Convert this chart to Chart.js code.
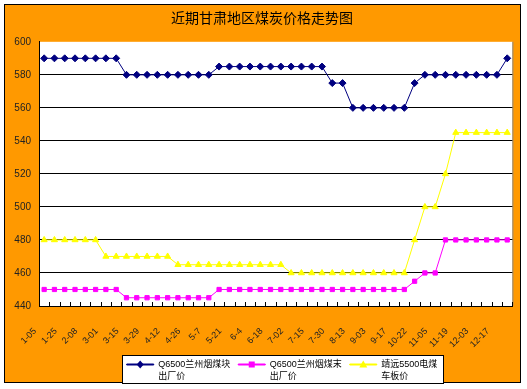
<!DOCTYPE html>
<html>
<head>
<meta charset="utf-8">
<script src="https://cdn.jsdelivr.net/npm/chart.js@4.4.0/dist/chart.umd.min.js"></script>
<style>
  html, body { margin: 0; padding: 0; background: #fff; }
  canvas { display: block; }
</style>
</head>
<body>
<canvas id="coalChart" width="527" height="389"></canvas>
<script>
// weekly quote dates, only every other one is printed on the axis
const dates = [
  "1-05", "1-15", "1-25", "2-01", "2-08", "2-22", "3-01", "3-08", "3-15", "3-22",
  "3-29", "4-05", "4-12", "4-19", "4-26", "5-01", "5-7", "5-14", "5-21", "5-28",
  "6-4", "6-11", "6-18", "6-25", "7-02", "7-08", "7-15", "7-23", "7-30", "8-06",
  "8-13", "8-20", "9-03", "9-10", "9-17", "9-24", "10-22", "10-29", "11-05", "11-12",
  "11-19", "11-26", "12-03", "12-10", "12-17", "12-24"
];

const lumpPrice = [
  590, 590, 590, 590, 590, 590, 590, 590, 580, 580,
  580, 580, 580, 580, 580, 580, 580, 585, 585, 585,
  585, 585, 585, 585, 585, 585, 585, 585, 575, 575,
  560, 560, 560, 560, 560, 560, 575, 580, 580, 580,
  580, 580, 580, 580, 580, 590
];

const finesPrice = [
  450, 450, 450, 450, 450, 450, 450, 450, 445, 445,
  445, 445, 445, 445, 445, 445, 445, 450, 450, 450,
  450, 450, 450, 450, 450, 450, 450, 450, 450, 450,
  450, 450, 450, 450, 450, 450, 455, 460, 460, 480,
  480, 480, 480, 480, 480, 480
];

const powerCoalPrice = [
  480, 480, 480, 480, 480, 480, 470, 470, 470, 470,
  470, 470, 470, 465, 465, 465, 465, 465, 465, 465,
  465, 465, 465, 465, 460, 460, 460, 460, 460, 460,
  460, 460, 460, 460, 460, 460, 480, 500, 500, 520,
  545, 545, 545, 545, 545, 545
];

const seriesNames = ["Q6500兰州烟煤块\n出厂价", "Q6500兰州烟煤末\n出厂价", "靖远5500电煤\n车板价"];
const yMin = 440, yMax = 600, yStep = 20;

const colors = {
  orange: "#FF9900",
  navy: "#000080",
  magenta: "#FF00FF",
  yellow: "#FFFF00"
};
const fontFamily = "'Liberation Sans', 'Noto Sans CJK SC', sans-serif";
const legendFontSize = 9;

// orange frame, white plot area, white legend box
const backdrop = {
  id: "backdrop",
  afterLayout(chart) {
    // legend block sits a little right of centre in the original
    chart.legend.left += 20;
    chart.legend.right += 20;
  },
  beforeDraw(chart) {
    const ctx = chart.ctx;
    const a = chart.chartArea;
    ctx.save();
    ctx.fillStyle = "#fff";
    ctx.fillRect(0, 0, chart.width, chart.height);
    ctx.fillStyle = colors.orange;
    ctx.fillRect(4, 4, chart.width - 10, chart.height - 10);
    ctx.strokeStyle = "#000";
    ctx.lineWidth = 1;
    ctx.strokeRect(4.5, 4.5, chart.width - 11, chart.height - 11);
    ctx.fillStyle = "#fff";
    ctx.fillRect(a.left, a.top, a.right - a.left, a.bottom - a.top);
    ctx.strokeStyle = "#888";
    ctx.beginPath();
    ctx.moveTo(a.right + 0.5, a.top);
    ctx.lineTo(a.right + 0.5, a.bottom);
    ctx.stroke();

    const boxes = chart.legend.legendHitBoxes;
    if (boxes && boxes.length) {
      let l = Infinity, t = Infinity, r = -Infinity;
      boxes.forEach(h => {
        l = Math.min(l, h.left); t = Math.min(t, h.top);
        r = Math.max(r, h.left + h.width);
      });
      const x0 = Math.round(l - 5) + 0.5;
      const y0 = Math.round(t - 5) + 0.5;
      const w = Math.round(r - l + 10);
      const hgt = 28;
      ctx.fillStyle = "#fff";
      ctx.fillRect(x0, y0, w, hgt);
      ctx.strokeStyle = "#000";
      ctx.strokeRect(x0, y0, w, hgt);
    }
    ctx.restore();
  }
};

// short category ticks pointing up into the plot, legend markers and second legend lines
const extras = {
  id: "extras",
  afterDraw(chart) {
    const ctx = chart.ctx;
    const x = chart.scales.x;
    const bottom = chart.chartArea.bottom;
    const step = x.getPixelForValue(1) - x.getPixelForValue(0);
    const start = x.getPixelForValue(0) - step / 2;
    ctx.save();
    ctx.strokeStyle = "#000";
    ctx.lineWidth = 1;
    ctx.beginPath();
    for (let i = 0; i <= dates.length; i++) {
      const px = Math.round(start + i * step) + 0.5;
      ctx.moveTo(px, bottom);
      ctx.lineTo(px, bottom - 4);
    }
    ctx.stroke();

    const boxW = chart.options.plugins.legend.labels.boxWidth;
    ctx.font = legendFontSize + "px " + fontFamily;
    ctx.textBaseline = "middle";
    ctx.textAlign = "left";
    chart.legend.legendHitBoxes.forEach((h, i) => {
      const ds = chart.data.datasets[i];
      const cx = h.left + boxW / 2;
      const cy = h.top + legendFontSize / 2;
      ctx.fillStyle = ds.pointBackgroundColor;
      ctx.beginPath();
      if (ds.pointStyle === "rectRot") {
        ctx.moveTo(cx, cy - 4); ctx.lineTo(cx + 3.5, cy); ctx.lineTo(cx, cy + 4); ctx.lineTo(cx - 3.5, cy);
      } else if (ds.pointStyle === "rect") {
        ctx.rect(cx - 3, cy - 3, 6, 6);
      } else {
        ctx.moveTo(cx, cy - 4); ctx.lineTo(cx + 4, cy + 3); ctx.lineTo(cx - 4, cy + 3);
      }
      ctx.closePath();
      ctx.fill();

      ctx.fillStyle = "#000";
      ctx.fillText(seriesNames[i].split("\n")[1], h.left + boxW + legendFontSize / 2, cy + 12);
    });
    ctx.restore();
  }
};

const yTickValues = [];
for (let v = yMin; v <= yMax; v += yStep) yTickValues.push(v);

new Chart(document.getElementById("coalChart"), {
  type: "line",
  data: {
    labels: dates,
    datasets: [
      {
        label: seriesNames[0],
        data: lumpPrice,
        borderColor: colors.navy,
        backgroundColor: colors.navy,
        pointBackgroundColor: colors.navy,
        pointBorderColor: colors.navy,
        pointStyle: "rectRot",
        pointRadius: 3.5,
        borderWidth: 1
      },
      {
        label: seriesNames[1],
        data: finesPrice,
        borderColor: colors.magenta,
        backgroundColor: colors.magenta,
        pointBackgroundColor: colors.magenta,
        pointBorderColor: colors.magenta,
        pointStyle: "rect",
        pointRadius: 3,
        borderWidth: 1
      },
      {
        label: seriesNames[2],
        data: powerCoalPrice,
        borderColor: colors.yellow,
        backgroundColor: colors.yellow,
        pointBackgroundColor: colors.yellow,
        pointBorderColor: colors.yellow,
        pointStyle: "triangle",
        pointRadius: 3.5,
        borderWidth: 1
      }
    ]
  },
  options: {
    responsive: false,
    animation: false,
    layout: { padding: { left: 10, right: 13, top: 6, bottom: 10 } },
    plugins: {
      tooltip: { enabled: false },
      title: {
        display: true,
        text: "近期甘肃地区煤炭价格走势图",
        color: "#000",
        font: { family: fontFamily, size: 14, weight: "normal" },
        padding: { top: 5, bottom: 14 }
      },
      legend: {
        position: "bottom",
        labels: {
          color: "#000",
          font: { family: fontFamily, size: legendFontSize },
          boxWidth: 27,
          boxHeight: 1,
          padding: 8,
          generateLabels: chart => Chart.defaults.plugins.legend.labels.generateLabels(chart).map(item => ({
            ...item,
            text: item.text.split("\n")[0],
            fillStyle: chart.data.datasets[item.datasetIndex].borderColor,
            strokeStyle: chart.data.datasets[item.datasetIndex].borderColor,
            lineWidth: 1
          }))
        }
      }
    },
    scales: {
      x: {
        offset: true,
        grid: { display: false },
        border: { display: true, color: "#000", width: 1 },
        ticks: {
          autoSkip: false,
          maxRotation: 45,
          minRotation: 45,
          padding: 12,
          labelOffset: -9,
          color: "#222",
          font: { family: fontFamily, size: 9 },
          callback: (v, i) => (i % 2 === 0 ? dates[i] : "")
        },
        afterFit: s => { s.height = 46; }
      },
      y: {
        min: yMin,
        max: yMax,
        afterBuildTicks: s => { s.ticks = yTickValues.map(v => ({ value: v })); },
        grid: {
          color: c => (c.tick && c.tick.value === yMax ? "rgba(0,0,0,0)" : "#000"),
          drawTicks: false
        },
        border: { display: true, color: "#000", width: 1 },
        ticks: {
          padding: 8,
          color: "#222",
          font: { family: fontFamily, size: 10 }
        },
        afterFit: s => { s.width = 29; }
      }
    }
  },
  plugins: [backdrop, extras]
});
</script>
</body>
</html>
